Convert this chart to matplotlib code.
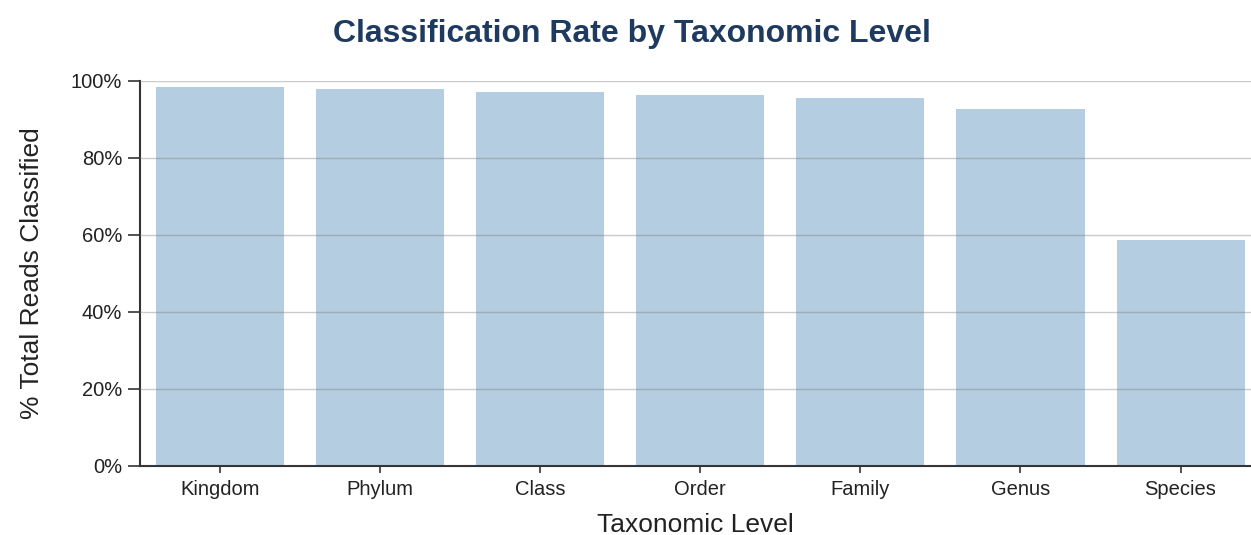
import matplotlib.pyplot as plt
from matplotlib.ticker import PercentFormatter

# Data
levels = ["Kingdom", "Phylum", "Class", "Order", "Family", "Genus", "Species"]
pct_classified = [98.4, 97.9, 97.1, 96.4, 95.6, 92.8, 58.7]

plt.rcParams["font.family"] = ["Liberation Sans", "DejaVu Sans"]

fig = plt.figure(figsize=(12.51, 5.35), dpi=100)
ax = fig.add_axes([0.112, 0.129, 0.888, 0.7196])

x = range(len(levels))
ax.bar(x, pct_classified, width=0.8, color="#b4cde1", zorder=1)

ax.set_xlim(-0.5, 6.44)
ax.set_ylim(0, 100)
ax.set_yticks([0, 20, 40, 60, 80, 100])
ax.yaxis.set_major_formatter(PercentFormatter(decimals=0))
ax.set_xticks(list(x))
ax.set_xticklabels(levels)

# grid over the bars, faint
ax.grid(axis="y", color="#7f7f7f", alpha=0.4, linewidth=1, zorder=3)
ax.set_axisbelow(False)

for side in ["top", "right"]:
    ax.spines[side].set_visible(False)
for side in ["left", "bottom"]:
    ax.spines[side].set_color("#333333")
    ax.spines[side].set_linewidth(1.5)

ax.tick_params(axis="both", colors="#333333", labelcolor="#222222",
               labelsize=14.5, width=1.2)
ax.tick_params(axis="y", length=9, pad=4)
ax.tick_params(axis="x", length=5, pad=5)

ax.set_xlabel("Taxonomic Level", fontsize=19, color="#222222", labelpad=10)
ax.set_ylabel("% Total Reads Classified", fontsize=19, color="#222222", labelpad=19)

fig.suptitle("Classification Rate by Taxonomic Level", fontsize=23,
             fontweight="bold", color="#1f3a5f", x=0.505, y=0.965)

fig.savefig("out.png", dpi=100)
